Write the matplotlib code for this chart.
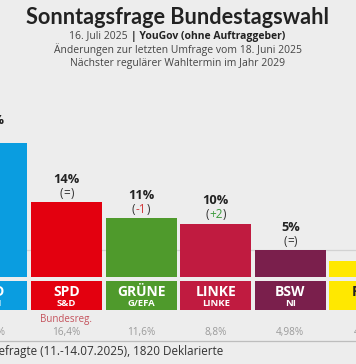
import matplotlib.pyplot as plt

# Sonntagsfrage YouGov, 16.07.2025 (crop of a wider chart)
parties = ['AfD', 'SPD', 'GRÜNE', 'LINKE', 'BSW', 'FDP']
groups = ['ESN', 'S&D', 'G/EFA', 'LINKE', 'NI', 'RE']
values = [25, 14, 11, 10, 5, 3]
changes = ['=', '=', '-1', '+2', '=', '=']
results_2025 = ['20,8%', '16,4%', '11,6%', '8,8%', '4,98%', '4,3%']
in_government = [False, True, False, False, False, False]
colors = ['#0a9de0', '#e3000f', '#4f9a2c', '#c01b40', '#7a1f4c', '#ffe800']
label_colors = ['white', 'white', 'white', 'white', 'white', '#222222']

BG = '#ededed'
FONT = 'Open Sans'

fig = plt.figure(figsize=(3.56, 3.64), dpi=100, facecolor=BG)
ax = fig.add_axes([0, 0, 1, 1])
ax.set_facecolor(BG)
ax.axis('off')
ax.set_xlim(0.1086, 4.8807)
ax.set_ylim(-16.26, 51.78)
renderer = fig.canvas.get_renderer()

x = list(range(len(parties)))

# 5% Huerde
ax.axhline(5, color='#d2d2d2', lw=0.9, zorder=0)

ax.bar(x, values, width=0.95, color=colors, zorder=2)
# farbige Namensfelder unter den Balken
ax.bar(x, -5.5, bottom=-0.75, width=0.95, color=colors, zorder=2)

for i, (v, c) in enumerate(zip(values, changes)):
    ax.text(i, v + 4.3, f'{v}%', ha='center', va='center', fontsize=9.2,
            fontweight='bold', family=FONT, color='#222222')
    if c == '=':
        col = '#333333'
    elif c.startswith('-'):
        col = '#d0393b'
    else:
        col = '#3a9a3a'
    mid = ax.text(i, v + 1.6, c, ha='center', va='center', fontsize=8.5,
                  family=FONT, color=col)
    w = mid.get_window_extent(renderer).width
    ax.annotate('(', xy=(i, v + 1.6), xytext=(-w / 2 - 0.3, 0),
                textcoords='offset pixels', ha='right', va='center',
                fontsize=8.5, family=FONT, color='#333333')
    ax.annotate(')', xy=(i, v + 1.6), xytext=(w / 2 + 0.3, 0),
                textcoords='offset pixels', ha='left', va='center',
                fontsize=8.5, family=FONT, color='#333333')

for i in x:
    ax.text(i, -2.75, parties[i], ha='center', va='center', fontsize=10,
            fontweight='bold', family=FONT, color=label_colors[i], zorder=3)
    ax.text(i, -4.9, groups[i], ha='center', va='center', fontsize=6.8,
            fontweight='bold', family=FONT, color=label_colors[i], zorder=3)
    if in_government[i]:
        ax.text(i, -7.85, 'Bundesreg.', ha='center', va='center', fontsize=7,
                family=FONT, color='#c4525c')
    ax.text(i, -10.28, results_2025[i], ha='center', va='center', fontsize=7.2,
            family=FONT, color='#9a9a9a')

ax.axhline(-11.87, color='#bdbdbd', lw=0.9)
ax.text(3.098, -14.0, '2.219 Befragte (11.-14.07.2025), 1820 Deklarierte',
        ha='right', va='center', fontsize=8.4, family=FONT, color='#333333')

# Titel
fig.text(0.5, 1 - 17 / 364, 'Sonntagsfrage Bundestagswahl', ha='center',
         va='center', fontsize=15.6, fontweight='bold', family='Lato',
         color='#222222')
fig.text(128 / 356, 1 - 36 / 364, '16. Juli 2025', ha='right', va='center',
         fontsize=7.5, family=FONT, color='#444444')
fig.text(131 / 356, 1 - 36 / 364, '| YouGov (ohne Auftraggeber)', ha='left',
         va='center', fontsize=7.5, fontweight='bold', family=FONT,
         color='#222222')
fig.text(0.5, 1 - 50 / 364, 'Änderungen zur letzten Umfrage vom 18. Juni 2025',
         ha='center', va='center', fontsize=7.5, family=FONT, color='#444444')
fig.text(0.5, 1 - 63.5 / 364, 'Nächster regulärer Wahltermin im Jahr 2029',
         ha='center', va='center', fontsize=7.5, family=FONT, color='#444444')

fig.savefig('out.png', dpi=100, facecolor=BG)
